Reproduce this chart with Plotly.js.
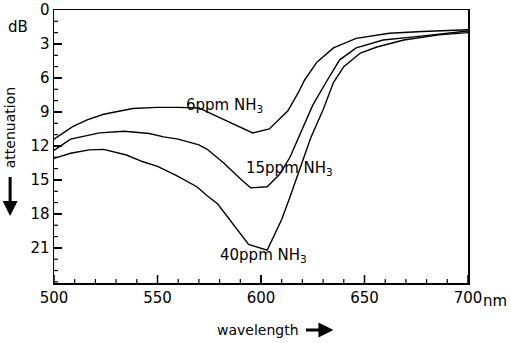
<!DOCTYPE html>
<html>
<head>
<meta charset="utf-8">
<script src="https://cdn.plot.ly/plotly-3.0.1.min.js"></script>
<style>html,body{margin:0;padding:0;background:#fff;}#chart{width:511px;height:343px;}</style>
</head>
<body>
<div id="chart"></div>
<script>
// 6 ppm NH3
var wl6   = [500, 509, 516, 524, 538, 550, 560, 570, 580, 588, 596, 604, 613, 618, 621, 627, 635, 646, 662, 678, 700];
var att6  = [11.4, 10.3, 9.7, 9.2, 8.7, 8.6, 8.6, 8.65, 9.5, 10.2, 10.85, 10.5, 8.9, 7.3, 6.2, 4.6, 3.35, 2.5, 2.05, 1.9, 1.75];
// 15 ppm NH3
var wl15  = [500, 508, 522, 534, 546, 553, 560, 570, 574, 582, 590, 595, 603, 609, 614, 619, 625, 632, 638, 646, 659, 675, 700];
var att15 = [12.4, 11.4, 10.85, 10.7, 10.9, 11.2, 11.4, 11.9, 12.3, 13.5, 14.9, 15.7, 15.6, 14.5, 13.0, 10.9, 8.4, 6.2, 4.4, 3.35, 2.65, 2.35, 1.85];
// 40 ppm NH3
var wl40  = [500, 508, 517, 524, 535, 543, 550, 559, 569, 574, 579, 587, 594, 603, 610, 614, 619, 624, 630, 635, 640, 648, 656, 669, 686, 700];
var att40 = [13.1, 12.65, 12.35, 12.3, 12.8, 13.4, 13.8, 14.6, 15.6, 16.4, 17.1, 19.0, 20.7, 21.2, 18.5, 16.5, 13.9, 11.3, 8.8, 6.4, 5.0, 3.8, 3.27, 2.65, 2.2, 2.0];

var xTickVals = [500, 550, 600, 650, 700];
var yTickVals = [0, 3, 6, 9, 12, 15, 18, 21];
var seriesLabels = ['6ppm NH<sub>3</sub>', '15ppm NH<sub>3</sub>', '40ppm NH<sub>3</sub>'];

var xRange = [500, 700];
var yRange = [24.1, 0];

var lineStyle = {color: '#000', width: 1.4};
var traces = [
  {x: wl6, y: att6, mode: 'lines', line: lineStyle, name: '6ppm', hoverinfo: 'skip'},
  {x: wl15, y: att15, mode: 'lines', line: lineStyle, name: '15ppm', hoverinfo: 'skip'},
  {x: wl40, y: att40, mode: 'lines', line: lineStyle, name: '40ppm', hoverinfo: 'skip'}
];

// inside tick marks built from the tick values, drawn through the axes' scales
var plotW = 511 - 54 - 43, plotH = 343 - 10 - 60;
var nmPerPx = (xRange[1] - xRange[0]) / plotW;
var dbPerPx = (yRange[0] - yRange[1]) / plotH;
var majX = [], majY = [], minX = [], minY = [];
for (var xv = 500; xv <= 700; xv += 10) {
  var isMaj = xTickVals.indexOf(xv) >= 0;
  var len = (isMaj ? 8 : 4) * dbPerPx;
  var tx = isMaj ? majX : minX, ty = isMaj ? majY : minY;
  tx.push(xv, xv, null); ty.push(yRange[0], yRange[0] - len, null);
}
for (var yv = 1; yv <= 24; yv += 1) {
  var isMajY = yTickVals.indexOf(yv) >= 0;
  var lenX = (isMajY ? 8 : 4) * nmPerPx;
  var ux = isMajY ? majX : minX, uy = isMajY ? majY : minY;
  ux.push(xRange[0], xRange[0] + lenX, null); uy.push(yv, yv, null);
}
traces.push({x: majX, y: majY, mode: 'lines', line: {color: '#000', width: 1.5}, hoverinfo: 'skip', connectgaps: false, name: 'majorTicks'});
traces.push({x: minX, y: minY, mode: 'lines', line: {color: '#000', width: 1.2}, hoverinfo: 'skip', connectgaps: false, name: 'minorTicks'});

var fnt = {family: 'DejaVu Sans, sans-serif', size: 15, color: '#000'};
var fntSmall = {family: 'DejaVu Sans, sans-serif', size: 14, color: '#000'};
var layout = {
  width: 511, height: 343,
  margin: {l: 54, r: 43, t: 10, b: 60},
  showlegend: false,
  xaxis: {
    range: xRange, tickmode: 'array', tickvals: xTickVals,
    ticks: 'inside', ticklen: 8, tickwidth: 1.5, tickcolor: '#000',
    showline: true, linecolor: '#000', linewidth: 1.5, mirror: true,
    showgrid: false, zeroline: false, tickfont: fnt
  },
  yaxis: {
    range: yRange, tickmode: 'array', tickvals: yTickVals,
    ticks: 'inside', ticklen: 8, tickwidth: 1.5, tickcolor: '#000',
    showline: true, linecolor: '#000', linewidth: 1.5, mirror: true,
    showgrid: false, zeroline: false, tickfont: fnt
  },
  annotations: [
    {x: 563, y: 8.4, xref: 'x', yref: 'y', text: seriesLabels[0], showarrow: false, xanchor: 'left', yanchor: 'middle', font: fnt},
    {x: 592, y: 14.0, xref: 'x', yref: 'y', text: seriesLabels[1], showarrow: false, xanchor: 'left', yanchor: 'middle', font: fnt},
    {x: 579, y: 21.7, xref: 'x', yref: 'y', text: seriesLabels[2], showarrow: false, xanchor: 'left', yanchor: 'middle', font: fnt},
    {x: 700, y: 0, xref: 'x', yref: 'paper', text: 'nm', showarrow: false, xanchor: 'left', yanchor: 'top', xshift: 13, yshift: -7, font: fnt},
    {x: -0.087, y: 0.938, xref: 'paper', yref: 'paper', text: 'dB', showarrow: false, xanchor: 'center', yanchor: 'middle', font: fnt},
    {x: -0.106, y: 0.245, xref: 'paper', yref: 'paper', text: 'attenuation', textangle: -90, font: fntSmall,
     showarrow: true, arrowhead: 2, arrowsize: 1, arrowwidth: 3, arrowcolor: '#000', ax: 0, ay: -88, standoff: 0, startstandoff: 7},
    {x: 0.675, y: -0.172, xref: 'paper', yref: 'paper', text: 'wavelength', font: fntSmall,
     showarrow: true, arrowhead: 2, arrowsize: 1, arrowwidth: 3, arrowcolor: '#000', ax: -75, ay: 0, standoff: 0, startstandoff: 5}
  ]
};

Plotly.newPlot('chart', traces, layout, {staticPlot: true});
</script>
</body>
</html>
